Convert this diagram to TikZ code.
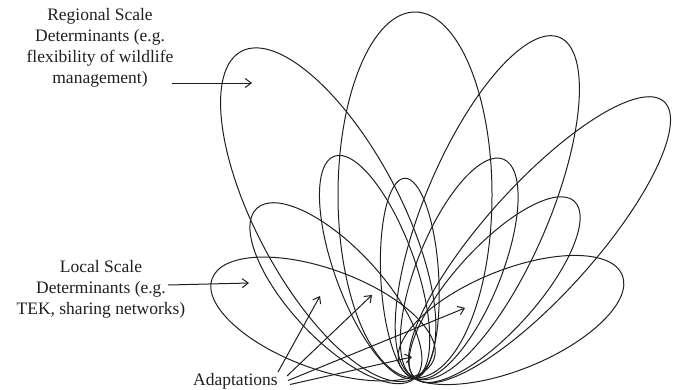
\documentclass[tikz,border=0pt]{standalone}
\usepackage{fontspec}
\setmainfont{Liberation Serif}
\usetikzlibrary{arrows.meta}
\newcommand\petal[6]{\draw[petalline,rotate around={-#2:(#3,#4)}] (#3,#4) ellipse [x radius=#6, y radius=#5] node[coordinate] (#1) at (#3,#4) {};}
\begin{document}
\begin{tikzpicture}[x=1pt,y=-1pt,
  petalline/.style={line width=1pt,draw=black!88},
  pointer/.style={line width=1pt,draw=black!88,-{Straight Barb[length=6pt,width=9pt,line width=1pt]}},
  label/.style={align=center,font=\fontsize{17.5}{21}\selectfont,text=black!88,inner sep=0pt}]
\useasboundingbox (0,0) rectangle (676,389);
% large petals (regional)
\petal{e1}{-28}{328.2}{214.7}{185}{72}
\petal{e2}{0}{415}{195}{183}{77}
\petal{e3}{23}{487.3}{207.7}{185}{62}
\petal{e4}{42}{539.5}{239.8}{186}{55}
% medium petals
\petal{l2}{-20}{374.6}{267.1}{118}{40}
\petal{r2}{22}{459.2}{268.6}{118}{42}
\petal{l3}{-43}{335.9}{293.2}{116}{46}
\petal{r3}{42}{494.6}{289.6}{119}{42}
% local petals
\petal{l4}{-70}{323}{319}{118}{50}
\petal{r4}{68}{511}{320}{120}{50}
% inner petal
\petal{in}{-3}{409.8}{278.1}{100}{29}
% labels
\node[label] (reg) at (100,48) {Regional Scale\\Determinants (e.g.\\flexibility of wildlife\\management)};
\node[label] (loc) at (101,289) {Local Scale\\Determinants (e.g.\\TEK, sharing networks)};
\node[label,anchor=base] (ada) at (235.5,385) {Adaptations};
% arrows
\coordinate (rs) at (172,83);
\coordinate (rt) at (252,83);
\coordinate (ls) at (168,285);
\coordinate (lt) at (249,283);
\draw[pointer] (rs) -- (rt);
\draw[pointer] (ls) -- (lt);
\coordinate (a1s) at (278,372);
\coordinate (a1t) at (320,296);
\coordinate (a2s) at (287,376);
\coordinate (a2t) at (372,295);
\coordinate (a3s) at (288,380.5);
\coordinate (a3t) at (465,308);
\coordinate (a4s) at (290,384.5);
\coordinate (a4t) at (412,357);
\draw[pointer] (a1s) -- (a1t);
\draw[pointer] (a2s) -- (a2t);
\draw[pointer] (a3s) -- (a3t);
\draw[pointer] (a4s) -- (a4t);
\end{tikzpicture}
\end{document}
